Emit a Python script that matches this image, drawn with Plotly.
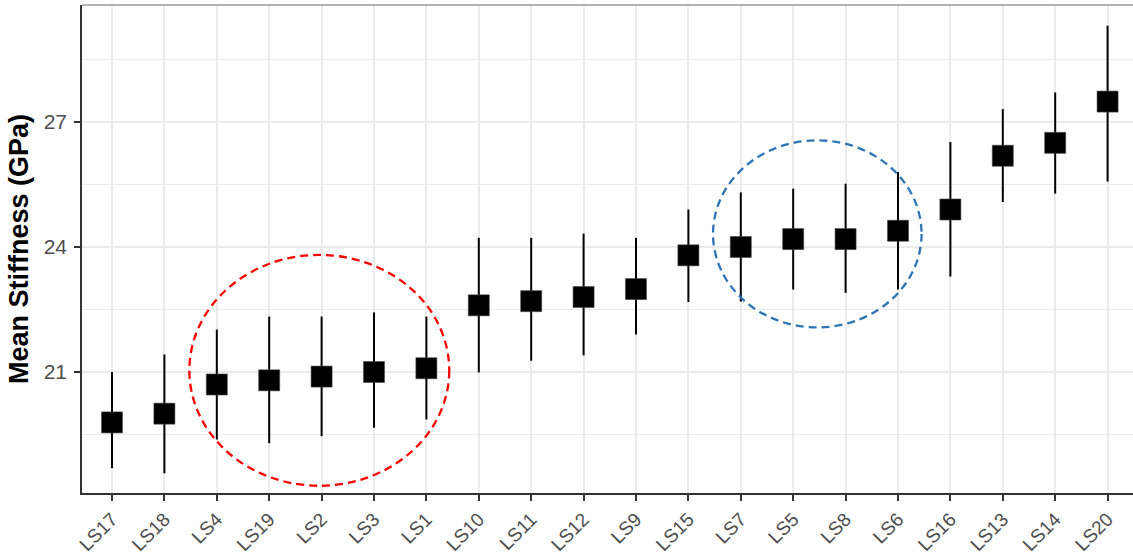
import plotly.graph_objects as go

# Laminated strip specimens, ordered by mean stiffness
specimens = ["LS17", "LS18", "LS4", "LS19", "LS2", "LS3", "LS1", "LS10", "LS11", "LS12",
             "LS9", "LS15", "LS7", "LS5", "LS8", "LS6", "LS16", "LS13", "LS14", "LS20"]
mean_gpa = [19.79, 20.00, 20.70, 20.80, 20.89, 21.00, 21.09, 22.60, 22.70, 22.80,
            22.99, 23.80, 24.00, 24.19, 24.19, 24.39, 24.90, 26.19, 26.50, 27.49]
upper_gpa = [21.00, 21.42, 22.02, 22.33, 22.33, 22.43, 22.33, 24.22, 24.22, 24.32,
             24.22, 24.90, 25.31, 25.40, 25.52, 25.80, 26.52, 27.31, 27.71, 29.31]
lower_gpa = [18.69, 18.57, 19.38, 19.29, 19.46, 19.66, 19.86, 20.99, 21.27, 21.40,
             21.90, 22.68, 22.69, 22.98, 22.90, 22.98, 23.29, 25.08, 25.28, 25.57]
y_ticks = [21, 24, 27]
y_minor = [19.5, 22.5, 25.5, 28.5]

err_plus = [u - m for u, m in zip(upper_gpa, mean_gpa)]
err_minus = [m - l for m, l in zip(mean_gpa, lower_gpa)]

FONT = "Liberation Sans, Arial, sans-serif"
GRID = "#EBEBEB"
BORDER = "#333333"

fig = go.Figure()
fig.add_trace(go.Scatter(
    x=specimens, y=mean_gpa, mode="markers",
    marker=dict(symbol="square", size=21, color="black",
                line=dict(width=0.6, color="#444444")),
    error_y=dict(type="data", symmetric=False, array=err_plus, arrayminus=err_minus,
                 width=0, thickness=2, color="black"),
    showlegend=False, hoverinfo="x+y",
))

# Highlighted groups
fig.add_shape(type="circle", xref="x", yref="y", x0=1.476, x1=6.436, y0=18.27, y1=23.81,
              line=dict(color="#FF0000", width=2.3, dash="8px,5px"), layer="above")
fig.add_shape(type="circle", xref="x", yref="y", x0=11.47, x1=15.45, y0=22.07, y1=26.56,
              line=dict(color="#2E75B6", width=2.3, dash="8px,5px"), layer="above")

# Top panel border
fig.add_shape(type="line", xref="paper", yref="paper", x0=0, x1=1, y0=1, y1=1,
              line=dict(color="#9A9A9A", width=1.5), layer="above")

fig.update_xaxes(
    type="category", categoryorder="array", categoryarray=specimens,
    range=[-0.5725, 19.485],
    showgrid=True, gridcolor=GRID, gridwidth=1.6,
    showline=True, linecolor=BORDER, linewidth=1.6, mirror=False,
    ticks="outside", ticklen=6, tickwidth=1.6, tickcolor=BORDER,
    tickangle=-45, tickfont=dict(family=FONT, size=19, color="#4D4D4D"),
    zeroline=False,
)
fig.update_yaxes(
    range=[18.096, 29.808],
    tickmode="array", tickvals=y_ticks, ticktext=[str(v) for v in y_ticks],
    showgrid=True, gridcolor=GRID, gridwidth=1.6,
    minor=dict(tickvals=y_minor, showgrid=True, gridcolor=GRID, gridwidth=1, ticks=""),
    showline=True, linecolor=BORDER, linewidth=1.6, mirror=False,
    ticks="outside", ticklen=6, tickwidth=1.6, tickcolor=BORDER,
    ticklabelstandoff=3,
    tickfont=dict(family=FONT, size=21, color="#4D4D4D"),
    title=dict(text="<b>Mean Stiffness (GPa)</b>", standoff=7,
               font=dict(family=FONT, size=27, color="black")),
    zeroline=False,
)

fig.update_layout(
    width=1133, height=554,
    margin=dict(l=82, r=0, t=5, b=61, autoexpand=False),
    paper_bgcolor="white", plot_bgcolor="white",
)

fig.write_html("out.html")
